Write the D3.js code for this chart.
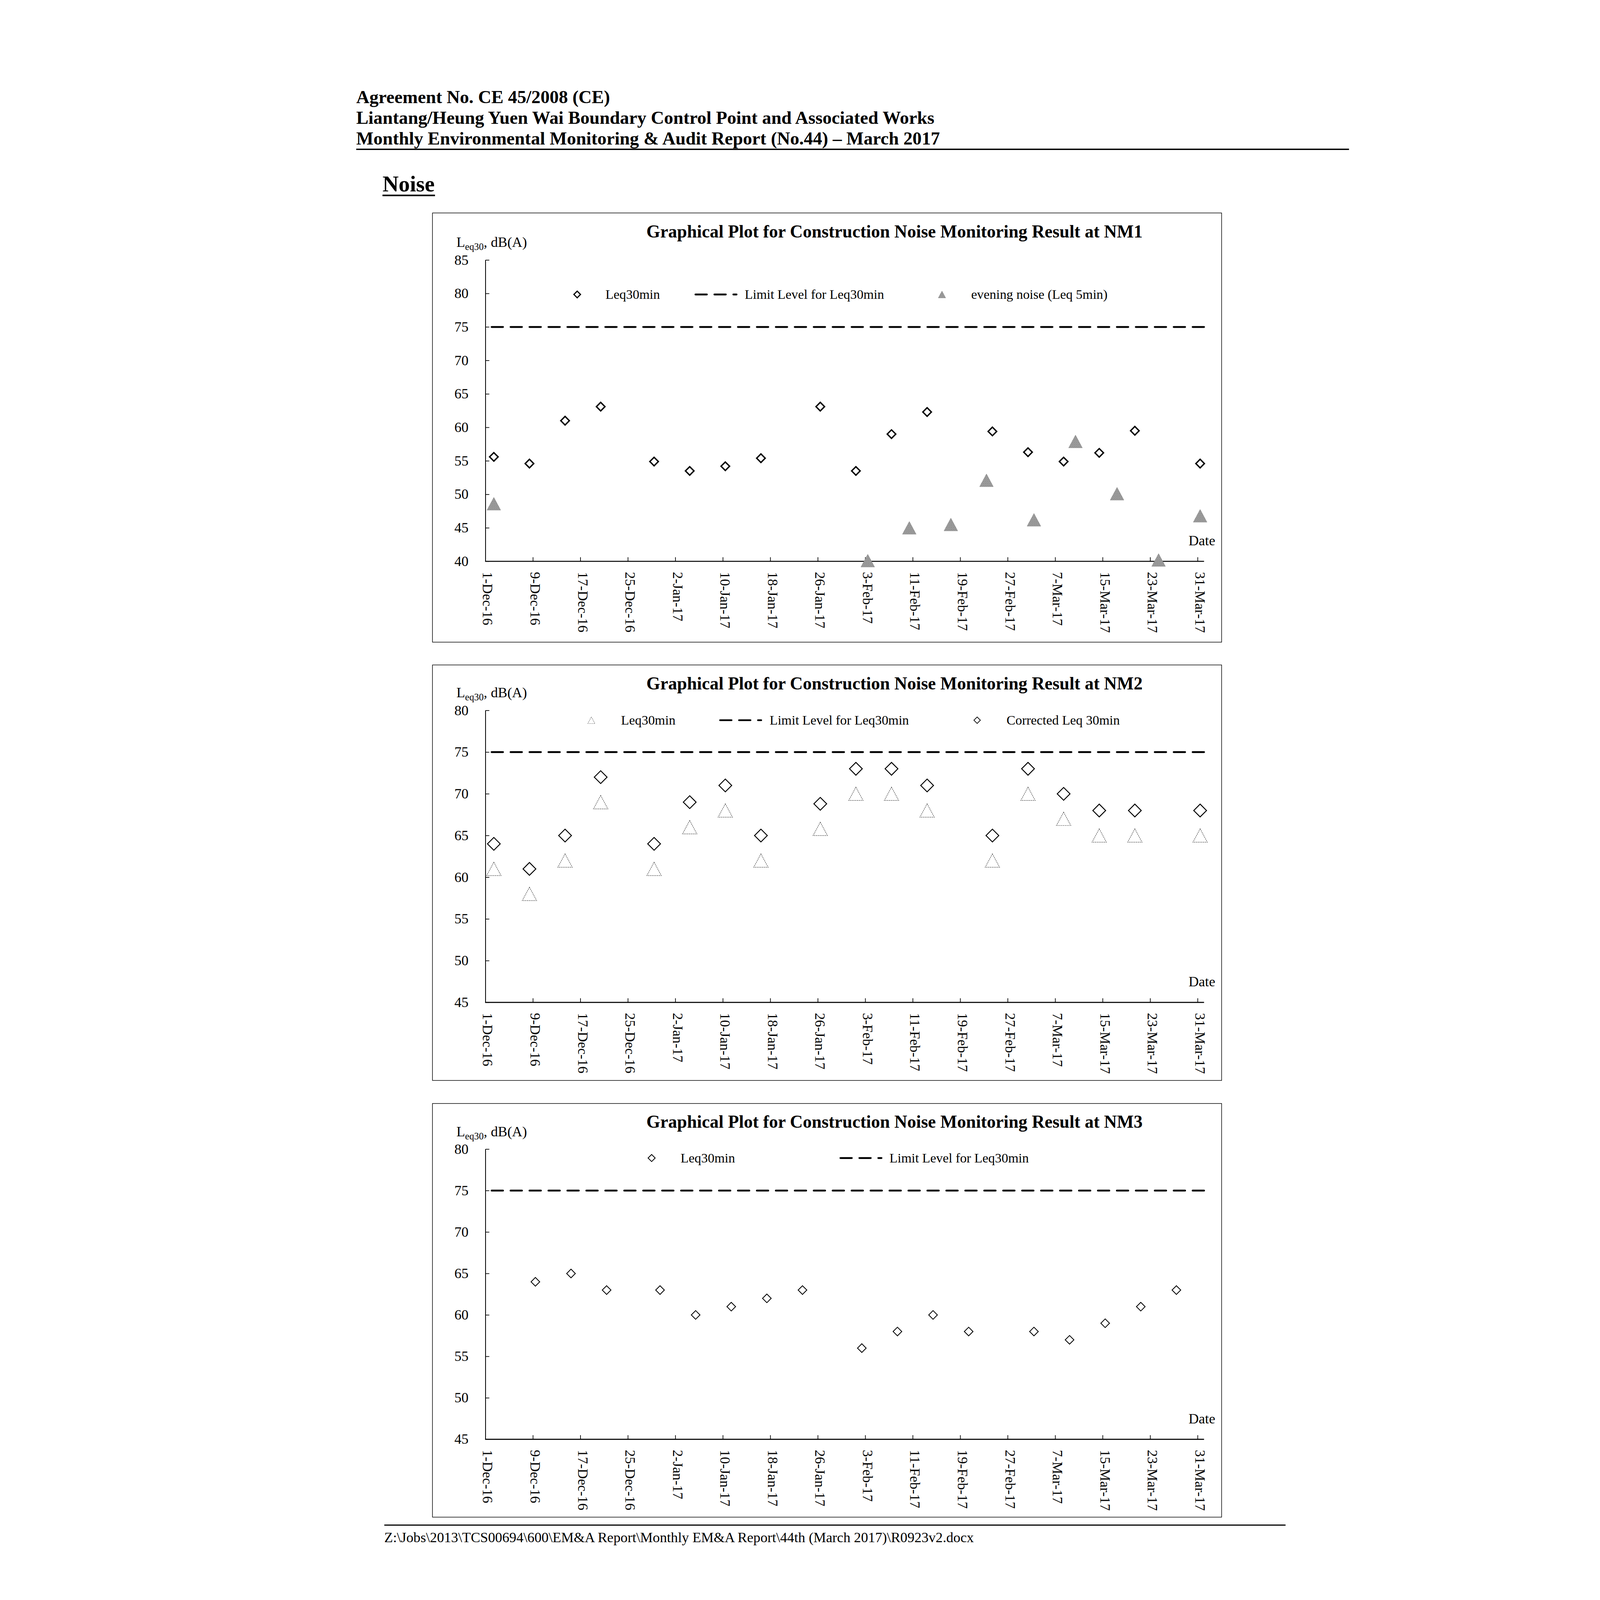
<!DOCTYPE html>
<html>
<head>
<meta charset="utf-8">
<script src="https://cdn.jsdelivr.net/npm/d3@7"></script>
<style>
  html, body { margin: 0; padding: 0; background: #fff; overflow: hidden; }
  svg { display: block; width: 100vw; height: 100vh; }
  text { font-family: "Liberation Serif", "Times New Roman", serif; fill: #000; }
</style>
</head>
<body>
<svg id="page" viewBox="0 0 4956 7009" preserveAspectRatio="xMidYMid meet"></svg>
<script>
// ---------------- data ----------------
const headerLines = [
  "Agreement No. CE 45/2008 (CE)",
  "Liantang/Heung Yuen Wai Boundary Control Point and Associated Works",
  "Monthly Environmental Monitoring & Audit Report (No.44) \u2013 March 2017"
];
const sectionTitle = "Noise";
const footerText = "Z:\\Jobs\\2013\\TCS00694\\600\\EM&A Report\\Monthly EM&A Report\\44th (March 2017)\\R0923v2.docx";

// x axis tick labels (every 8 days)
const dateTicks = ["1-Dec-16", "9-Dec-16", "17-Dec-16", "25-Dec-16", "2-Jan-17", "10-Jan-17",
  "18-Jan-17", "26-Jan-17", "3-Feb-17", "11-Feb-17", "19-Feb-17", "27-Feb-17",
  "7-Mar-17", "15-Mar-17", "23-Mar-17", "31-Mar-17"];

const limitLevel = 75;

// NM1 / NM2 monitoring days
const nm1Dates = ["2016-12-02", "2016-12-08", "2016-12-14", "2016-12-20", "2016-12-29", "2017-01-04",
  "2017-01-10", "2017-01-16", "2017-01-26", "2017-02-01", "2017-02-07", "2017-02-13",
  "2017-02-24", "2017-03-02", "2017-03-08", "2017-03-14", "2017-03-20", "2017-03-31"];
const nm1Leq = [55.6, 54.6, 61.0, 63.1, 54.9, 53.5, 54.2, 55.4, 63.1, 53.5, 59.0, 62.3,
  59.4, 56.3, 54.9, 56.2, 59.5, 54.6];
const nm1EveningDates = ["2016-12-02", "2017-02-03", "2017-02-10", "2017-02-17", "2017-02-23",
  "2017-03-03", "2017-03-10", "2017-03-17", "2017-03-24", "2017-03-31"];
const nm1Evening = [48.6, 40.1, 45.0, 45.5, 52.1, 46.2, 57.9, 50.1, 40.2, 46.8];

const nm2Dates = nm1Dates;
const nm2Leq = [61, 58, 62, 69, 61, 66, 68, 62, 65.8, 70, 70, 68, 62, 70, 67, 65, 65, 65];
const nm2Corrected = [64, 61, 65, 72, 64, 69, 71, 65, 68.8, 73, 73, 71, 65, 73, 70, 68, 68, 68];

const nm3Dates = ["2016-12-09", "2016-12-15", "2016-12-21", "2016-12-30", "2017-01-05", "2017-01-11",
  "2017-01-17", "2017-01-23", "2017-02-02", "2017-02-08", "2017-02-14", "2017-02-20",
  "2017-03-03", "2017-03-09", "2017-03-15", "2017-03-21", "2017-03-27"];
const nm3Leq = [64, 65, 63, 63, 60, 61, 62, 63, 56, 58, 60, 58, 58, 57, 59, 61, 63];

// measurements were taken mid-morning
const monitorHour = 10;

// ---------------- helpers ----------------
const svg = d3.select('#page');
const parseTick = d3.timeParse('%d-%b-%y');
const parseDay = d3.timeParse('%Y-%m-%d');
const tickDates = dateTicks.map(parseTick);
const toTime = s => d3.timeHour.offset(parseDay(s), monitorHour);

const x = d3.scaleTime()
  .domain([tickDates[0], tickDates[tickDates.length - 1]])
  .range([1100, 4220]);

// Excel style triangle: bbox centred on the value
const excelTriangle = {
  draw(ctx, size) {
    const w = Math.sqrt(size), h = w * 0.93;
    ctx.moveTo(0, -h / 2);
    ctx.lineTo(w / 2, h / 2);
    ctx.lineTo(-w / 2, h / 2);
    ctx.closePath();
  }
};

// stipple fill for the evening noise triangles
const defs = svg.append('defs');
const pat = defs.append('pattern')
  .attr('id', 'stipple')
  .attr('width', 8).attr('height', 8)
  .attr('patternUnits', 'userSpaceOnUse');
pat.append('rect').attr('width', 8).attr('height', 8).attr('fill', '#c4c4c4');
[[0, 0], [4, 1], [2, 3], [6, 4], [1, 6], [5, 7], [3, 5], [7, 2]].forEach(p => {
  pat.append('rect').attr('x', p[0]).attr('y', p[1])
    .attr('width', 1.6).attr('height', 1.6).attr('fill', '#2a2a2a');
});

function markerPath(kind, size) {
  if (kind === 'diamond') return d3.symbol(d3.symbolSquare, size)();
  return d3.symbol(excelTriangle, size)();
}

function styleMarker(sel, s) {
  sel.attr('d', markerPath(s.kind, s.size))
    .attr('fill', s.fill)
    .attr('stroke', s.stroke)
    .attr('stroke-width', s.strokeWidth)
    .attr('stroke-dasharray', s.dash || null);
  return sel;
}

const markerStyles = {
  nm1Diamond: { kind: 'diamond', size: 700, fill: '#fff', stroke: '#000', strokeWidth: 6 },
  nm1DiamondLegend: { kind: 'diamond', size: 420, fill: '#fff', stroke: '#000', strokeWidth: 5 },
  stippleTri: { kind: 'triangle', size: 3600, fill: 'url(#stipple)', stroke: '#8a8a8a', strokeWidth: 1.5 },
  stippleTriLegend: { kind: 'triangle', size: 1050, fill: 'url(#stipple)', stroke: '#8a8a8a', strokeWidth: 1.5 },
  openTri: { kind: 'triangle', size: 3970, fill: 'none', stroke: '#555', strokeWidth: 2.5, dash: '5 3' },
  openTriLegend: { kind: 'triangle', size: 980, fill: 'none', stroke: '#555', strokeWidth: 2, dash: '4 3' },
  nm2Diamond: { kind: 'diamond', size: 1570, fill: '#fff', stroke: '#000', strokeWidth: 4 },
  nm2DiamondLegend: { kind: 'diamond', size: 400, fill: '#fff', stroke: '#000', strokeWidth: 3 },
  nm3Diamond: { kind: 'diamond', size: 720, fill: '#fff', stroke: '#000', strokeWidth: 3.5 },
  nm3DiamondLegend: { kind: 'diamond', size: 480, fill: '#fff', stroke: '#000', strokeWidth: 3.5 }
};

// ---------------- page header ----------------
const header = svg.append('g');
header.selectAll('text')
  .data(headerLines)
  .join('text')
  .attr('x', 534)
  .attr('y', (d, i) => 452 + i * 90.5)
  .attr('font-size', 80)
  .attr('font-weight', 'bold')
  .text(d => d);
header.append('line')
  .attr('x1', 534).attr('x2', 4883)
  .attr('y1', 654).attr('y2', 654)
  .attr('stroke', '#000').attr('stroke-width', 6);

svg.append('text')
  .attr('x', 649).attr('y', 839)
  .attr('font-size', 98).attr('font-weight', 'bold')
  .text(sectionTitle);
svg.append('line')
  .attr('x1', 649).attr('x2', 879)
  .attr('y1', 856).attr('y2', 856)
  .attr('stroke', '#000').attr('stroke-width', 7);

// ---------------- charts ----------------
const charts = [
  {
    title: 'Graphical Plot for Construction Noise Monitoring Result at NM1',
    frame: [868, 933, 4325, 2813],
    yDomain: [40, 85], yRange: [2459, 1139],
    legendY: 1290,
    series: [
      { dates: nm1Dates, values: nm1Leq, style: 'nm1Diamond' },
      { dates: nm1EveningDates, values: nm1Evening, style: 'stippleTri' }
    ],
    legend: [
      { style: 'nm1DiamondLegend', mx: 1502, tx: 1626, label: 'Leq30min' },
      { dash: true, mx: 2016, tx: 2236, label: 'Limit Level for Leq30min' },
      { style: 'stippleTriLegend', mx: 3100, tx: 3228, label: 'evening noise (Leq 5min)' }
    ]
  },
  {
    title: 'Graphical Plot for Construction Noise Monitoring Result at NM2',
    frame: [868, 2913, 4325, 4733],
    yDomain: [45, 80], yRange: [4391, 3112],
    legendY: 3155,
    series: [
      { dates: nm2Dates, values: nm2Leq, style: 'openTri' },
      { dates: nm2Dates, values: nm2Corrected, style: 'nm2Diamond' }
    ],
    legend: [
      { style: 'openTriLegend', mx: 1564, tx: 1694, label: 'Leq30min' },
      { dash: true, mx: 2124, tx: 2345, label: 'Limit Level for Leq30min' },
      { style: 'nm2DiamondLegend', mx: 3254, tx: 3383, label: 'Corrected Leq 30min' }
    ]
  },
  {
    title: 'Graphical Plot for Construction Noise Monitoring Result at NM3',
    frame: [868, 4834, 4325, 6646],
    yDomain: [45, 80], yRange: [6305, 5034],
    legendY: 5073,
    series: [
      { dates: nm3Dates, values: nm3Leq, style: 'nm3Diamond' }
    ],
    legend: [
      { style: 'nm3DiamondLegend', mx: 1828, tx: 1955, label: 'Leq30min' },
      { dash: true, mx: 2651, tx: 2870, label: 'Limit Level for Leq30min' }
    ]
  }
];

const limitDash = '50 33';

function drawChart(cfg) {
  const g = svg.append('g');
  const [fx0, fy0, fx1, fy1] = cfg.frame;

  g.append('rect')
    .attr('x', fx0).attr('y', fy0)
    .attr('width', fx1 - fx0).attr('height', fy1 - fy0)
    .attr('fill', 'none').attr('stroke', '#000').attr('stroke-width', 2.5);

  const y = d3.scaleLinear().domain(cfg.yDomain).range(cfg.yRange);
  const [xLeft, xRight] = x.range();
  const yBottom = y(cfg.yDomain[0]), yTop = y(cfg.yDomain[1]);

  // title
  g.append('text')
    .attr('x', 2892).attr('y', fy0 + 107)
    .attr('text-anchor', 'middle')
    .attr('font-size', 78).attr('font-weight', 'bold')
    .text(cfg.title);

  // y axis label  L_eq30, dB(A)
  const yl = g.append('text')
    .attr('x', 973).attr('y', yTop - 57)
    .attr('font-size', 62);
  yl.append('tspan').text('L');
  yl.append('tspan').attr('font-size', 42).attr('dy', 14).text('eq30');
  yl.append('tspan').attr('dy', -14).text(', dB(A)');

  // y axis
  const yAxis = d3.axisLeft(y)
    .tickValues(d3.range(cfg.yDomain[0], cfg.yDomain[1] + 1, 5))
    .tickSize(-17)
    .tickSizeOuter(0)
    .tickPadding(74);
  const ya = g.append('g')
    .attr('transform', `translate(${xLeft},0)`)
    .call(yAxis)
    .attr('font-size', 62)
    .attr('font-family', null);
  ya.select('.domain').attr('stroke-width', 3.5);
  ya.selectAll('.tick line').attr('stroke-width', 3);

  // x axis
  const xAxis = d3.axisBottom(x)
    .tickValues(tickDates)
    .tickFormat(d3.timeFormat('%-d-%b-%y'))
    .tickSize(-18)
    .tickSizeOuter(0);
  const xa = g.append('g')
    .attr('transform', `translate(0,${yBottom})`)
    .call(xAxis)
    .attr('font-size', 62)
    .attr('font-family', null);
  xa.select('.domain').remove();
  xa.selectAll('.tick line').attr('stroke-width', 3);
  xa.selectAll('.tick text')
    .attr('transform', 'rotate(90)')
    .attr('x', 46).attr('y', 0)
    .attr('dy', '0.18em')
    .attr('text-anchor', 'start');
  xa.append('line')
    .attr('x1', xLeft - 1.5).attr('x2', xRight + 28)
    .attr('y1', 0).attr('y2', 0)
    .attr('stroke', '#000').attr('stroke-width', 4.5);

  g.append('text')
    .attr('x', 4297).attr('y', yBottom - 70)
    .attr('text-anchor', 'end')
    .attr('font-size', 62)
    .text('Date');

  // limit level line
  g.append('line')
    .attr('x1', xLeft + 27).attr('x2', xRight + 32)
    .attr('y1', y(limitLevel)).attr('y2', y(limitLevel))
    .attr('stroke', '#000').attr('stroke-width', 8)
    .attr('stroke-linecap', 'round')
    .attr('stroke-dasharray', limitDash);

  // data markers
  cfg.series.forEach(s => {
    const st = markerStyles[s.style];
    const pts = s.dates.map((d, i) => ({ t: toTime(d), v: s.values[i] }));
    g.append('g').selectAll('path')
      .data(pts)
      .join('path')
      .call(sel => styleMarker(sel, st))
      .attr('transform', d => `translate(${x(d.t)},${y(d.v)})` + (st.kind === 'diamond' ? ' rotate(45)' : ''));
  });

  // legend
  const lg = g.append('g');
  cfg.legend.forEach(item => {
    if (item.dash) {
      lg.append('line')
        .attr('x1', item.mx + 4).attr('x2', item.mx + 184)
        .attr('y1', cfg.legendY).attr('y2', cfg.legendY)
        .attr('stroke', '#000').attr('stroke-width', 8)
        .attr('stroke-linecap', 'round')
        .attr('stroke-dasharray', limitDash);
    } else {
      const st = markerStyles[item.style];
      lg.append('path')
        .call(sel => styleMarker(sel, st))
        .attr('transform', `translate(${item.mx},${cfg.legendY})` + (st.kind === 'diamond' ? ' rotate(45)' : ''));
    }
    lg.append('text')
      .attr('x', item.tx).attr('y', cfg.legendY + 19)
      .attr('font-size', 58)
      .text(item.label);
  });
}

charts.forEach(drawChart);

// ---------------- footer ----------------
svg.append('line')
  .attr('x1', 657).attr('x2', 4605)
  .attr('y1', 6681).attr('y2', 6681)
  .attr('stroke', '#000').attr('stroke-width', 5);
svg.append('text')
  .attr('x', 657).attr('y', 6756)
  .attr('font-size', 62)
  .text(footerText);
</script>
</body>
</html>
